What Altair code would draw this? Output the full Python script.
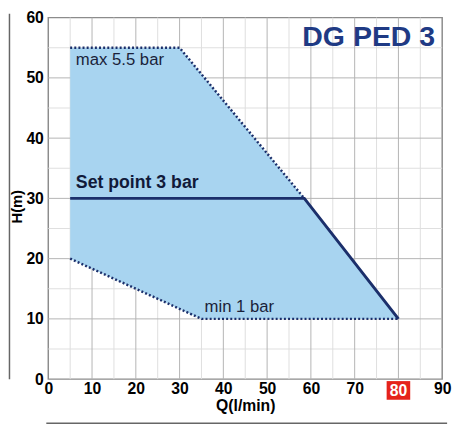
import altair as alt
import pandas as pd

# operating field of the pump (polygon corners)
field_q = [5, 30, 58.5, 80, 35, 5]
field_h = [55, 55, 30, 10, 10, 20]

# boundary lines
max_q = [5, 30, 58.5]
max_h = [55, 55, 30]
min_q = [5, 35, 80]
min_h = [20, 10, 10]
set_q = [5, 58.5, 80]
set_h = [30, 30, 10]

# annotations
note_text = ["max 5.5 bar", "min 1 bar"]
note_q = [6.3, 35.7]
note_h = [52.2, 11.1]

major_x = [10, 20, 30, 40, 50, 60, 70, 80]
minor_x = [5, 15, 25, 35, 45, 55, 65, 75, 85]
major_y = [10, 20, 30, 40, 50]
minor_y = [5, 15, 25, 35, 45, 55]

W, H = 401, 368
NAVY = "#1b2f6b"
FONT = "Liberation Sans, Arial, Helvetica, sans-serif"

xs = alt.Scale(domain=[0, 90], nice=False, zero=False)
ys = alt.Scale(domain=[0, 60], nice=False)

field = pd.DataFrame({"Q": field_q, "H": field_h, "i": range(len(field_q))})
max_df = pd.DataFrame({"Q": max_q, "H": max_h})
min_df = pd.DataFrame({"Q": min_q, "H": min_h})
set_df = pd.DataFrame({"Q": set_q, "H": set_h})
notes = pd.DataFrame({"t": note_text, "Q": note_q, "H": note_h})

grid_major_v = alt.Chart(pd.DataFrame({"v": major_x})).mark_rule(color="#b4b4b4", strokeWidth=1).encode(
    x=alt.X("v:Q", scale=xs))
grid_minor_v = alt.Chart(pd.DataFrame({"v": minor_x})).mark_rule(color="#dedede", strokeWidth=1).encode(
    x=alt.X("v:Q", scale=xs))
grid_major_h = alt.Chart(pd.DataFrame({"v": major_y})).mark_rule(color="#b4b4b4", strokeWidth=1).encode(
    y=alt.Y("v:Q", scale=ys))
grid_minor_h = alt.Chart(pd.DataFrame({"v": minor_y})).mark_rule(color="#dedede", strokeWidth=1).encode(
    y=alt.Y("v:Q", scale=ys))

# axes carried by the filled field
area = alt.Chart(field).mark_line(fill="#a8d4f0", strokeOpacity=0).encode(
    x=alt.X("Q:Q", scale=xs, title="Q(l/min)",
            axis=alt.Axis(values=list(range(0, 91, 10)), grid=False, ticks=False, domain=False,
                          labelFont=FONT, labelFontSize=16, labelFontWeight="bold", labelColor="black",
                          labelPadding=2, labelFlush=False,
                          labelExpr="datum.value == 80 ? '' : datum.label",
                          titleFont=FONT, titleFontSize=16, titleFontWeight="bold", titleColor="black",
                          titleY=32, titleBaseline="alphabetic")),
    y=alt.Y("H:Q", scale=ys, title="H(m)",
            axis=alt.Axis(values=list(range(0, 61, 10)), grid=False, ticks=False, domain=False,
                          labelFont=FONT, labelFontSize=16, labelFontWeight="bold", labelColor="black",
                          labelPadding=5, labelFlush=False,
                          titleFont=FONT, titleFontSize=15, titleFontWeight="bold", titleColor="black",
                          titleX=-24, titleY=192, titleBaseline="bottom")),
    order="i:Q")

dots = dict(color=NAVY, strokeWidth=2.5, strokeDash=[2, 2.2])
max_line = alt.Chart(max_df).mark_line(**dots).encode(x=alt.X("Q:Q", scale=xs), y=alt.Y("H:Q", scale=ys))
min_line = alt.Chart(min_df).mark_line(**dots).encode(x=alt.X("Q:Q", scale=xs), y=alt.Y("H:Q", scale=ys))
set_line = alt.Chart(set_df).mark_line(color=NAVY, strokeWidth=3).encode(
    x=alt.X("Q:Q", scale=xs), y=alt.Y("H:Q", scale=ys))

note_marks = alt.Chart(notes).mark_text(font=FONT, fontSize=17, color="#1a1f3a", align="left",
                                         baseline="alphabetic").encode(
    x=alt.X("Q:Q", scale=xs), y=alt.Y("H:Q", scale=ys), text="t:N")

set_label = alt.Chart(pd.DataFrame({"t": ["Set point 3 bar"], "Q": [6.3], "H": [31.8]})).mark_text(
    font=FONT, fontSize=18, fontWeight="bold", color="#111a3a", align="left", baseline="alphabetic").encode(
    x=alt.X("Q:Q", scale=xs), y=alt.Y("H:Q", scale=ys), text="t:N")

model = alt.Chart(pd.DataFrame({"t": ["DG PED 3"], "Q": [88.4], "H": [55.3]})).mark_text(
    font=FONT, fontSize=29, fontWeight="bold", color="#1f3a84", align="right", baseline="alphabetic").encode(
    x=alt.X("Q:Q", scale=xs), y=alt.Y("H:Q", scale=ys), text="t:N")

# highlighted max flow tick
hi = pd.DataFrame({"Q": [80], "t": ["80"]})
hi_box = alt.Chart(hi).mark_rect(color="#e5231b", width=24, clip=False).encode(
    x=alt.X("Q:Q", scale=xs), y=alt.value(H + 2), y2=alt.value(H + 21))
hi_text = alt.Chart(hi).mark_text(font=FONT, fontSize=16, fontWeight="bold", color="white",
                                  baseline="middle", clip=False).encode(
    x=alt.X("Q:Q", scale=xs), y=alt.value(H + 12), text="t:N")

# decorative frame lines outside the plot
left_bar = alt.Chart(hi).mark_rule(color="#666666", strokeWidth=1.5).encode(
    x=alt.value(-39.5), y=alt.value(-4), y2=alt.value(H))
bottom_bar = alt.Chart(hi).mark_rule(color="#666666", strokeWidth=1.5).encode(
    x=alt.value(-2), x2=alt.value(W + 5), y=alt.value(H + 45))

chart = alt.layer(
    grid_minor_v, grid_minor_h, grid_major_v, grid_major_h,
    area, max_line, min_line, set_line,
    note_marks, set_label, model, hi_box, hi_text, left_bar, bottom_bar
).properties(
    width=W, height=H,
    autosize=alt.AutoSizeParams(type="none"),
    padding={"left": 41, "top": 6, "right": 11, "bottom": 49},
).configure_view(
    stroke="#8c8c8c", strokeWidth=1.5
)

chart.save("out.html", embed_options={"renderer": "svg", "actions": False})
